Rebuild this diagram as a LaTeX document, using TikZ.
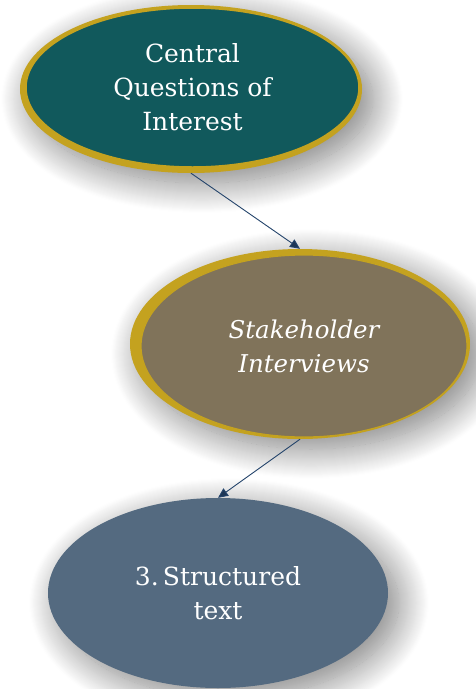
\documentclass[tikz,border=0pt]{standalone}
\usepackage{fontspec}
\setmainfont{DejaVu Serif}
\usetikzlibrary{shapes.geometric, shadows.blur, arrows.meta}
\definecolor{deepteal}{HTML}{11595C}
\definecolor{oldgold}{HTML}{C4A21F}
\definecolor{khaki}{HTML}{80735A}
\definecolor{slate}{HTML}{546A80}
\definecolor{navyline}{HTML}{24446B}

\begin{document}
\begin{tikzpicture}
    [x=1pt, y=-1pt,
      bubble/.style={ellipse, inner sep=0pt, text=white, align=center,
        font=\fontsize{25}{34}\selectfont},
      soft/.style={blur shadow={shadow xshift=11pt, shadow yshift=-10pt,
        shadow blur radius=30pt, shadow blur steps=30, shadow opacity=50}},
      link/.style={draw=navyline, line width=0.9pt,
        -{Triangle[length=10pt, width=9pt, fill=navyline!80!black]}}]
    \useasboundingbox (0,0) rectangle (475,689);

    % top bubble, gold rim a bit heavier towards the lower left
    \node[bubble, soft, fill=oldgold, minimum width=342pt, minimum height=168pt]
      (centralrim) at (191,89) {};
    \node[bubble, fill=deepteal, draw=oldgold, line width=2.5pt,
      minimum width=334pt, minimum height=160pt]
      (central) at (192.5,87.5) {Central\\Questions of\\Interest};

    % middle bubble sits on a gold ellipse shifted up and left
    \node[bubble, soft, fill=oldgold, minimum width=340pt, minimum height=190pt]
      (stakerim) at (300,344) {};
    \node[bubble, fill=khaki, draw=oldgold, line width=1.2pt,
      minimum width=326pt, minimum height=182pt, font=\fontsize{24.5}{34}\selectfont\itshape]
      (stake) at (304,346) {Stakeholder\\Interviews};

    % bottom bubble
    \node[bubble, soft, fill=slate, minimum width=340pt, minimum height=190pt]
      (structured) at (218,593) {3.\,Structured\\text};

    \draw[link] (centralrim.south) -- (stakerim.north);
    \draw[link] (stakerim.south) -- (structured.north);
\end{tikzpicture}
\end{document}
